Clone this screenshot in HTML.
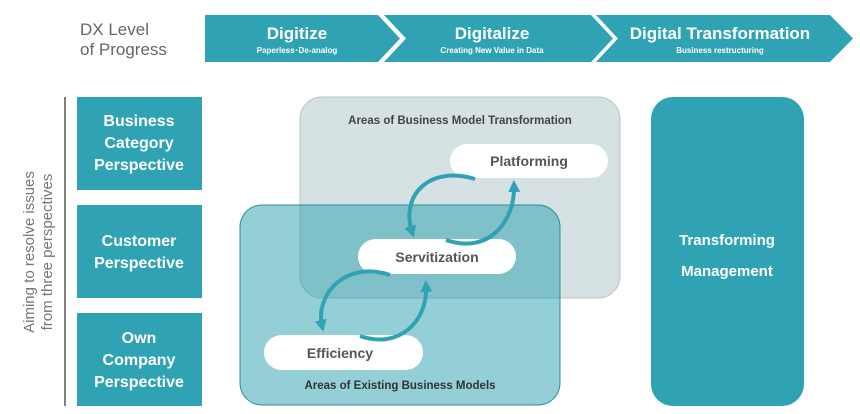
<!DOCTYPE html>
<html><head><meta charset="utf-8"><style>
html,body{margin:0;padding:0;background:#fff;}
svg{display:block;font-family:"Liberation Sans","DejaVu Sans",sans-serif;}
</style></head><body>
<svg width="860" height="414" viewBox="0 0 860 414" xmlns="http://www.w3.org/2000/svg">
<defs>
<marker id="ah" markerWidth="3" markerHeight="3" refX="1.5" refY="1.5" orient="auto" markerUnits="strokeWidth">
<path d="M0,0 L3,1.5 L0,3 z" fill="#2fa3b3"/></marker>
</defs>
<text x="80" y="35" font-size="17" fill="#666">DX Level</text>
<text x="80" y="55" font-size="17" fill="#666">of Progress</text>
<polygon points="205,15 378,15 400,38.5 378,62 205,62" fill="#2fa3b3"/>
<polygon points="384,15 591,15 613,38.5 591,62 384,62 406,38.5" fill="#2fa3b3"/>
<polygon points="596,15 830,15 853,38.5 830,62 596,62 618,38.5" fill="#2fa3b3"/>
<g fill="#fff" font-weight="bold" text-anchor="middle">
<text x="297" y="39" font-size="17">Digitize</text>
<text x="297" y="53" font-size="8">Paperless･De-analog</text>
<text x="492" y="39" font-size="17">Digitalize</text>
<text x="492" y="53" font-size="8">Creating New Value in Data</text>
<text x="720" y="39" font-size="17">Digital Transformation</text>
<text x="720" y="53" font-size="8">Business restructuring</text>
</g>
<line x1="65" y1="97" x2="65" y2="406" stroke="#555" stroke-width="1.5"/>
<text transform="translate(40,252) rotate(-90)" text-anchor="middle" font-size="15" fill="#777"><tspan x="0" y="-6">Aiming to resolve issues</tspan><tspan x="0" y="12">from three perspectives</tspan></text>
<rect x="77" y="97" width="125" height="93" fill="#2fa3b3"/>
<rect x="77" y="205" width="125" height="93" fill="#2fa3b3"/>
<rect x="77" y="313" width="125" height="93" fill="#2fa3b3"/>
<g fill="#fff" font-weight="bold" font-size="16" text-anchor="middle">
<text x="139" y="126">Business</text><text x="139" y="148">Category</text><text x="139" y="170">Perspective</text>
<text x="139" y="246">Customer</text><text x="139" y="268">Perspective</text>
<text x="139" y="343">Own</text><text x="139" y="365">Company</text><text x="139" y="387">Perspective</text>
</g>
<rect x="651" y="97" width="153" height="309" rx="22" fill="#2fa3b3"/>
<g fill="#fff" font-weight="bold" font-size="15" text-anchor="middle">
<text x="727" y="245">Transforming</text><text x="727" y="276">Management</text>
</g>
<rect x="300" y="97" width="320" height="201" rx="22" fill="#d5e1e3" stroke="#b9c4c6"/>
<rect x="240" y="205" width="320" height="200" rx="22" fill="#2a9fb0" fill-opacity="0.5" stroke="#2a8f9e"/>
<text x="460" y="124" text-anchor="middle" font-size="11.5" font-weight="bold" fill="#444">Areas of Business Model Transformation</text>
<text x="400" y="389" text-anchor="middle" font-size="11.5" font-weight="bold" fill="#333">Areas of Existing Business Models</text>
<rect x="450" y="144" width="158" height="34" rx="17" fill="#fff"/>
<rect x="358" y="239" width="158" height="35" rx="17.5" fill="#fff"/>
<rect x="264" y="335" width="159" height="35" rx="17.5" fill="#fff"/>
<g font-weight="bold" font-size="14" fill="#555" text-anchor="middle">
<text x="529" y="166">Platforming</text>
<text x="437" y="262">Servitization</text>
<text x="340" y="358">Efficiency</text>
</g>
<g fill="none" stroke="#2fa3b3" stroke-width="4">
<path d="M475,179 C430,165 400,195 412,232" marker-end="url(#ah)"/>
<path d="M446,240 C490,255 515,220 514,186" marker-end="url(#ah)"/>
<path d="M390,275 C345,260 315,295 322,326" marker-end="url(#ah)"/>
<path d="M360,336 C400,350 428,320 426,286" marker-end="url(#ah)"/>
</g>
</svg>
</body></html>
